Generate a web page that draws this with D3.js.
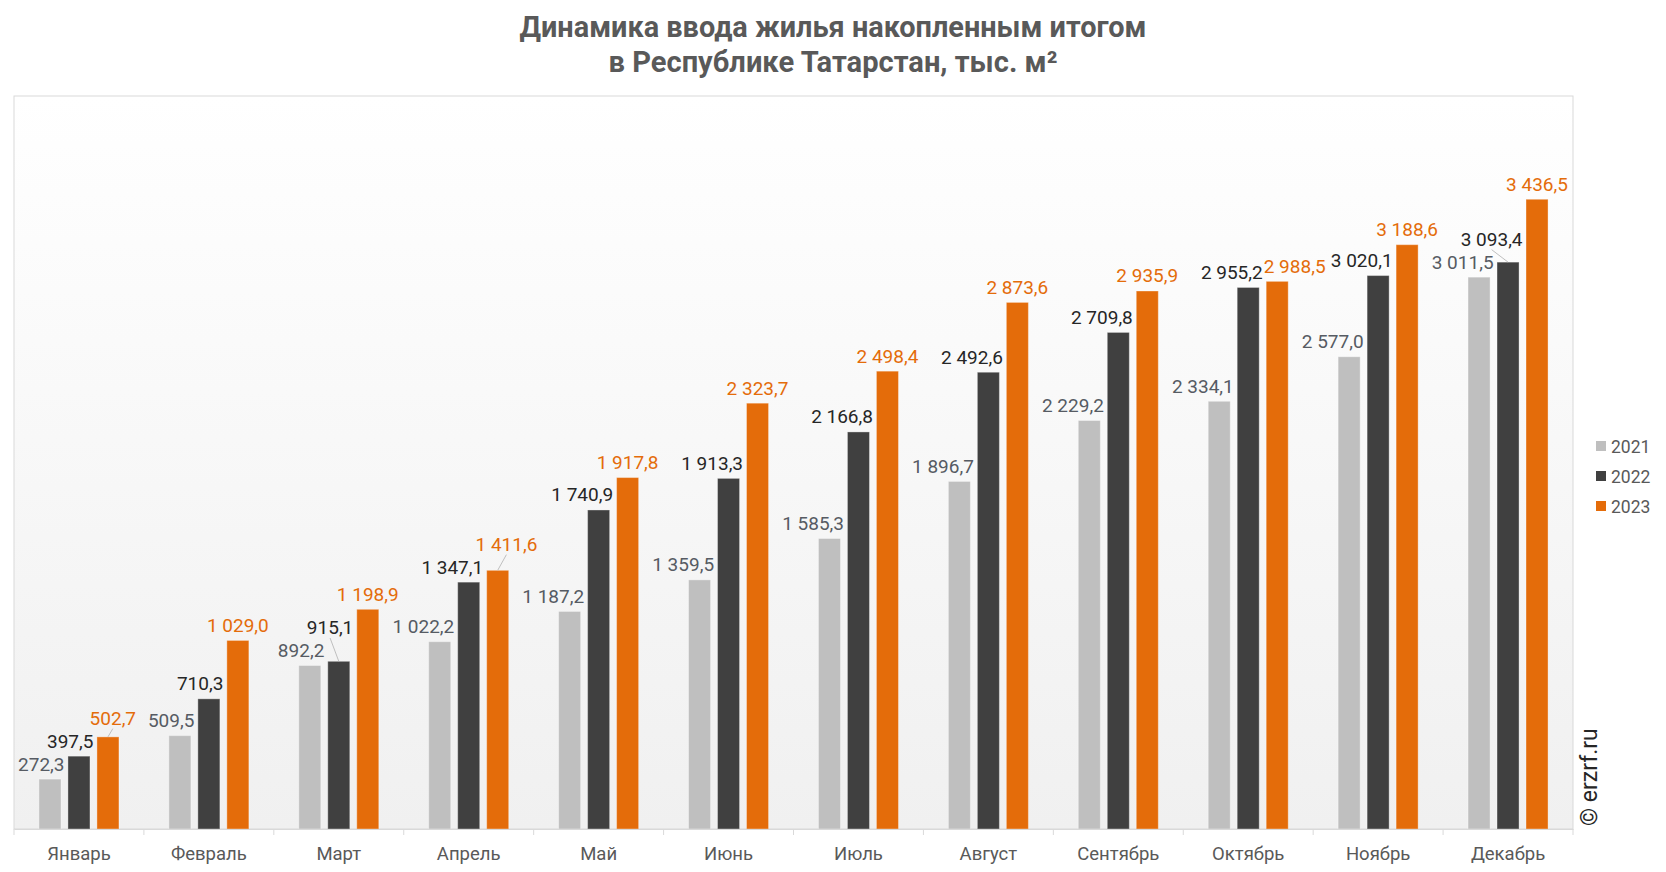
<!DOCTYPE html>
<html>
<head>
<meta charset="utf-8">
<script src="https://cdn.jsdelivr.net/npm/d3@7"></script>
<style>
  html, body { margin: 0; padding: 0; background: #ffffff; }
  svg { display: block; }
  text { font-family: Roboto, "Noto Sans", sans-serif; }
</style>
</head>
<body>
<svg id="chart" width="1666" height="872"></svg>
<script>
// ---- data ----
const categories = ["Январь", "Февраль", "Март", "Апрель", "Май", "Июнь", "Июль", "Август", "Сентябрь", "Октябрь", "Ноябрь", "Декабрь"];
const seriesNames = ["2021", "2022", "2023"];
const values2021 = [272.3, 509.5, 892.2, 1022.2, 1187.2, 1359.5, 1585.3, 1896.7, 2229.2, 2334.1, 2577.0, 3011.5];
const values2022 = [397.5, 710.3, 915.1, 1347.1, 1740.9, 1913.3, 2166.8, 2492.6, 2709.8, 2955.2, 3020.1, 3093.4];
const values2023 = [502.7, 1029.0, 1198.9, 1411.6, 1917.8, 2323.7, 2498.4, 2873.6, 2935.9, 2988.5, 3188.6, 3436.5];
const titleLines = ["Динамика ввода жилья накопленным итогом", "в Республике Татарстан, тыс. м²"];
const watermark = "© erzrf.ru";

// ---- styles ----
const barColors = ["#bfbfbf", "#404040", "#e46c0a"];
const labelColors = ["#565b63", "#262626", "#e46c0a"];
const textGray = "#595959";
const lineGray = "#d9d9d9";

const svg = d3.select("#chart");
const W = 1666, H = 872;
const plot = { left: 14, right: 1573, top: 96, bottom: 829 };

const seriesValues = [values2021, values2022, values2023];

// background gradient
const defs = svg.append("defs");
const grad = defs.append("linearGradient").attr("id", "bg").attr("x1", 0).attr("y1", 0).attr("x2", 0).attr("y2", 1);
grad.append("stop").attr("offset", "0%").attr("stop-color", "#ffffff");
grad.append("stop").attr("offset", "100%").attr("stop-color", "#f0f0f0");

svg.append("rect").attr("width", W).attr("height", H).attr("fill", "#ffffff");
svg.append("rect")
  .attr("x", plot.left).attr("y", plot.top)
  .attr("width", plot.right - plot.left).attr("height", plot.bottom - plot.top)
  .attr("fill", "url(#bg)").attr("stroke", lineGray).attr("stroke-width", 1);

// scales
const x0 = d3.scaleBand().domain(categories).range([plot.left, plot.right]).padding(0);
const groupW = 80;
const x1 = d3.scaleBand().domain(seriesNames)
  .range([(x0.bandwidth() - groupW) / 2, (x0.bandwidth() + groupW) / 2])
  .paddingInner(0.24).paddingOuter(0);
const y = d3.scaleLinear().domain([0, 4000]).range([plot.bottom, plot.top]);

// title
const title = svg.append("g");
const titleWidths = [627, 449];
const titleBase = [37, 72];
titleLines.forEach((t, i) => {
  const tt = title.append("text")
    .attr("x", 833).attr("y", titleBase[i])
    .attr("text-anchor", "middle")
    .attr("font-size", 28).attr("font-weight", 700)
    .attr("fill", textGray)
    .text(t);
  const nat = tt.node().getComputedTextLength();
  tt.attr("font-size", 28 * titleWidths[i] / nat)
    .attr("textLength", titleWidths[i])
    .attr("lengthAdjust", "spacingAndGlyphs");
});

// bars
const rows = categories.map((c, i) => ({ cat: c, vals: seriesValues.map(v => v[i]) }));
const gBars = svg.append("g");
rows.forEach(r => {
  seriesNames.forEach((s, j) => {
    gBars.append("rect")
      .attr("x", x0(r.cat) + x1(s))
      .attr("y", y(r.vals[j]))
      .attr("width", x1.bandwidth())
      .attr("height", y(0) - y(r.vals[j]))
      .attr("fill", barColors[j])
      .attr("stroke", "rgba(255,255,255,0.35)")
      .attr("stroke-width", 1);
  });
});

// axis
const axis = svg.append("g").attr("transform", `translate(0,${plot.bottom})`)
  .call(d3.axisBottom(x0).tickSize(0).tickPadding(18));
axis.select(".domain").attr("stroke", lineGray);
axis.selectAll(".tick text")
  .attr("font-family", "Roboto, sans-serif")
  .attr("font-size", 18.5).attr("fill", textGray)
  .attr("dy", "0.71em");
const boundaries = categories.map(c => x0(c)).concat([plot.right]);
svg.append("g").selectAll("line").data(boundaries).join("line")
  .attr("x1", d => d).attr("x2", d => d)
  .attr("y1", plot.bottom).attr("y2", plot.bottom + 6)
  .attr("stroke", lineGray);

// value labels
const fmt = d3.formatLocale({ decimal: ",", thousands: "\u00a0", grouping: [3], currency: ["", ""] }).format(",.1f");
const gLabels = svg.append("g");
const gLeaders = svg.insert("g", "g");
const gap = 8.5, lineStep = 23, fontSize = 19;

rows.forEach(r => {
  const info = seriesNames.map((s, j) => {
    const bx = x0(r.cat) + x1(s);
    const t = gLabels.append("text")
      .attr("font-size", fontSize).attr("fill", labelColors[j])
      .text(fmt(r.vals[j]));
    const w = t.node().getComputedTextLength();
    const top = y(r.vals[j]);
    return { t, w, bx, bw: x1.bandwidth(), top, base: top - gap, raised: false, j };
  });
  // gray & dark: right-aligned to bar right edge; orange centered
  info.forEach(d => {
    if (d.j < 2) { d.right = d.bx + d.bw + 3.5; d.left = d.right - d.w; }
    else { const c = d.bx + d.bw / 2; d.left = c - d.w / 2; d.right = c + d.w / 2; }
  });
  const g0 = info[0], g1 = info[1], g2 = info[2];
  // dark vs gray
  if (Math.abs(g0.base - g1.base) < 20 && g1.left < g0.right) {
    g1.base = g0.base - lineStep; g1.raised = true;
  }
  // orange vs dark
  if (Math.abs(g1.base - g2.base) < 20 && g2.left < g1.right + 1) {
    const overlap = g1.right + 1 - g2.left;
    if (Math.abs(g1.base - g2.base) < 8) {
      g2.left += overlap; g2.right += overlap;
    } else {
      g2.base = g1.base - lineStep; g2.raised = true;
      g2.left += overlap / 2; g2.right += overlap / 2;
    }
  }
  info.forEach(d => {
    d.t.attr("x", d.left).attr("y", d.base);
    if (d.raised) {
      gLeaders.append("line")
        .attr("x1", (d.left + d.right) / 2).attr("y1", d.base + 4)
        .attr("x2", d.bx + d.bw / 2).attr("y2", d.top)
        .attr("stroke", "#bfbfbf").attr("stroke-width", 1);
    }
  });
});
gLeaders.raise();
gLabels.raise();

// legend
const legend = svg.append("g");
seriesNames.forEach((s, j) => {
  const cy = 446 + j * 30;
  legend.append("rect").attr("x", 1596).attr("y", cy - 5).attr("width", 10).attr("height", 10).attr("fill", barColors[j]);
  legend.append("text").attr("x", 1611).attr("y", cy + 6.5)
    .attr("font-size", 17.5).attr("fill", textGray).text(s);
});

// watermark
svg.append("text")
  .attr("transform", "translate(1597,826) rotate(-90)")
  .attr("font-family", "'Liberation Sans', Arial, sans-serif")
  .attr("font-size", 23).attr("fill", "#262626")
  .text(watermark);
</script>
</body>
</html>
